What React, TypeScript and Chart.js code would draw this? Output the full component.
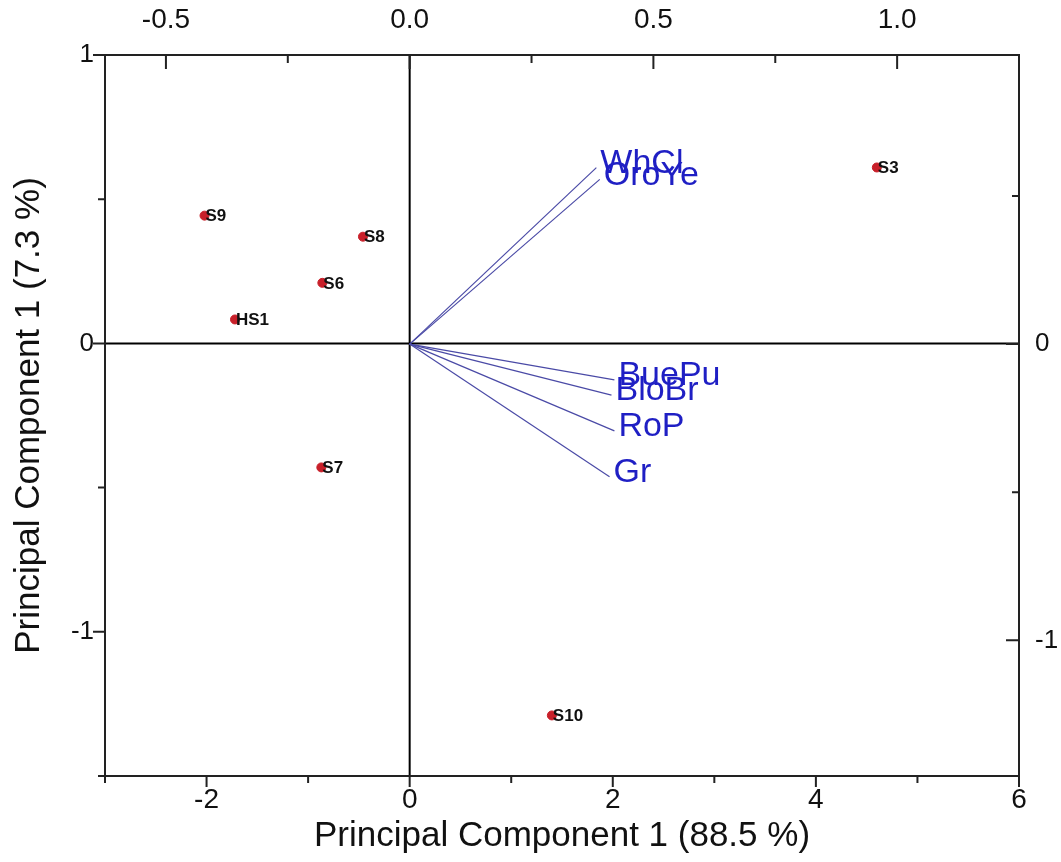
import React, { useEffect, useRef } from 'react';
import { Chart, registerables } from 'chart.js';

Chart.register(...registerables);

// Sample scores (bottom / left axes)
const sampleNames = ['S9', 'S8', 'S6', 'HS1', 'S7', 'S10', 'S3'];
const pc1Scores = [-2.02, -0.46, -0.86, -1.72, -0.87, 1.40, 4.60];
const pc2Scores = [0.443, 0.37, 0.21, 0.083, -0.43, -1.29, 0.61];

// Variable loadings (top / right axes)
const variableNames = ['WhCl', 'OroYe', 'BuePu', 'BloBr', 'RoP', 'Gr'];
const pc1Loadings = [0.383, 0.39, 0.42, 0.414, 0.42, 0.41];
const pc2Loadings = [0.596, 0.556, -0.121, -0.172, -0.293, -0.448];

// Tick labels
const bottomTickLabels = [-2, 0, 2, 4, 6];
const topTickLabels = [-0.5, 0.0, 0.5, 1.0];
const leftTickLabels = [1, 0, -1];
const rightTickLabels = [0, -1];

const xTitle = 'Principal Component 1 (88.5 %)';
const yTitle = 'Principal Component 1 (7.3 %)';

const NARROW = "'Liberation Sans Narrow', 'Arial Narrow', 'Liberation Sans', Arial, sans-serif";
const SANS = "'Liberation Sans', Arial, sans-serif";

const has = (arr: number[], v: number) => arr.some((a) => Math.abs(a - v) < 1e-6);
const isMult = (v: number, s: number) => Math.abs(v / s - Math.round(v / s)) < 1e-6;

const axesPlugin = {
  id: 'axesPlugin',
  beforeDatasetsDraw(chart: any) {
    const { ctx, chartArea: a, scales } = chart;
    ctx.save();
    ctx.strokeStyle = '#000';
    ctx.lineWidth = 2;
    const x0 = scales.x.getPixelForValue(0);
    const y0 = scales.y.getPixelForValue(0);
    ctx.beginPath();
    ctx.moveTo(x0, a.top);
    ctx.lineTo(x0, a.bottom);
    ctx.moveTo(a.left, y0);
    ctx.lineTo(a.right, y0);
    ctx.stroke();
    ctx.restore();
  },
  afterDatasetsDraw(chart: any) {
    const { ctx, chartArea: a, scales } = chart;
    ctx.save();
    ctx.strokeStyle = '#222';
    ctx.lineWidth = 2;
    ctx.strokeRect(a.left, a.top, a.right - a.left, a.bottom - a.top);
    ctx.beginPath();
    // bottom: outward
    scales.x.ticks.forEach((t: any) => {
      if (!isMult(t.value, 1)) return;
      const p = scales.x.getPixelForValue(t.value);
      const len = has(bottomTickLabels, t.value) ? 11 : 7;
      ctx.moveTo(p, a.bottom);
      ctx.lineTo(p, a.bottom + len);
    });
    // top: inward
    scales.x2.ticks.forEach((t: any) => {
      if (!isMult(t.value, 0.25)) return;
      const p = scales.x2.getPixelForValue(t.value);
      const len = has(topTickLabels, t.value) ? 14 : 8;
      ctx.moveTo(p, a.top);
      ctx.lineTo(p, a.top + len);
    });
    // left: outward
    scales.y.ticks.forEach((t: any) => {
      if (!isMult(t.value, 0.5)) return;
      const p = scales.y.getPixelForValue(t.value);
      const len = has(leftTickLabels, t.value) ? 12 : 7;
      ctx.moveTo(a.left, p);
      ctx.lineTo(a.left - len, p);
    });
    // right: inward
    scales.y2.ticks.forEach((t: any) => {
      if (!isMult(t.value, 0.5)) return;
      const p = scales.y2.getPixelForValue(t.value);
      const len = has(rightTickLabels, t.value) ? 13 : 7;
      ctx.moveTo(a.right, p);
      ctx.lineTo(a.right - len, p);
    });
    ctx.stroke();

    // sample labels
    const meta = chart.getDatasetMeta(0);
    ctx.fillStyle = '#111';
    ctx.font = `bold 17px ${SANS}`;
    ctx.textAlign = 'left';
    ctx.textBaseline = 'middle';
    meta.data.forEach((el: any, i: number) => {
      ctx.fillText(sampleNames[i], el.x + 1, el.y + 1);
    });

    // variable labels
    ctx.fillStyle = '#1f1fc4';
    ctx.font = `34px ${SANS}`;
    variableNames.forEach((name, i) => {
      const m = chart.getDatasetMeta(i + 1);
      const end = m.data[1];
      ctx.fillText(name, end.x + 4, end.y - 4);
    });
    ctx.restore();
  },
};

export default function App() {
  const ref = useRef<HTMLCanvasElement | null>(null);
  useEffect(() => {
    if (!ref.current) return;
    const datasets: any[] = [
      {
        label: 'Samples',
        data: pc1Scores.map((x, i) => ({ x, y: pc2Scores[i] })),
        xAxisID: 'x',
        yAxisID: 'y',
        pointRadius: 4.5,
        pointBackgroundColor: '#c8202a',
        pointBorderColor: '#c8202a',
        showLine: false,
      },
      ...variableNames.map((name, i) => ({
        label: name,
        data: [
          { x: 0, y: 0 },
          { x: pc1Loadings[i], y: pc2Loadings[i] },
        ],
        xAxisID: 'x2',
        yAxisID: 'y2',
        showLine: true,
        pointRadius: 0,
        borderColor: '#4a4aa6',
        borderWidth: 1.2,
        fill: false,
      })),
    ];
    const chart = new Chart(ref.current, {
      type: 'scatter',
      data: { datasets },
      plugins: [axesPlugin],
      options: {
        animation: false,
        responsive: false,
        layout: { padding: 0 },
        plugins: { legend: { display: false }, tooltip: { enabled: false } },
        scales: {
          x: {
            type: 'linear',
            position: 'bottom',
            min: -3,
            max: 6,
            grid: { display: false, drawTicks: false },
            border: { display: false },
            ticks: {
              stepSize: 1,
              autoSkip: false,
              includeBounds: false,
              maxRotation: 0,
              padding: 7,
              color: '#111',
              font: { family: NARROW, size: 28 },
              callback: (v: any) => (has(bottomTickLabels, Number(v)) ? String(v) : ''),
            },
            title: {
              display: true,
              text: xTitle,
              color: '#111',
              font: { family: NARROW, size: 35 },
              padding: { top: 0, bottom: 5 },
            },
            afterFit: (s: any) => { s.height = 86; },
          },
          x2: {
            type: 'linear',
            position: 'top',
            min: -0.625,
            max: 1.25,
            grid: { display: false, drawTicks: false },
            border: { display: false },
            ticks: {
              stepSize: 0.25,
              autoSkip: false,
              includeBounds: false,
              maxRotation: 0,
              padding: 18,
              color: '#111',
              font: { family: NARROW, size: 28 },
              callback: (v: any) => (has(topTickLabels, Number(v)) ? Number(v).toFixed(1) : ''),
            },
            afterFit: (s: any) => { s.height = 55; },
          },
          y: {
            type: 'linear',
            position: 'left',
            min: -1.5,
            max: 1,
            grid: { display: false, drawTicks: false },
            border: { display: false },
            ticks: {
              stepSize: 0.5,
              autoSkip: false,
              includeBounds: false,
              padding: 11,
              color: '#111',
              font: { family: SANS, size: 26 },
              callback: (v: any) => (has(leftTickLabels, Number(v)) ? String(v) : ''),
            },
            title: {
              display: true,
              text: yTitle,
              color: '#111',
              font: { family: NARROW, size: 35 },
              padding: { top: 8, bottom: 0 },
            },
            afterFit: (s: any) => { s.width = 105; },
          },
          y2: {
            type: 'linear',
            position: 'right',
            min: -1.458,
            max: 0.976,
            grid: { display: false, drawTicks: false },
            border: { display: false },
            ticks: {
              stepSize: 0.5,
              autoSkip: false,
              includeBounds: false,
              padding: 16,
              color: '#111',
              font: { family: SANS, size: 26 },
              callback: (v: any) => (has(rightTickLabels, Number(v)) ? String(v) : ''),
            },
            afterFit: (s: any) => { s.width = 42; },
          },
        },
      } as any,
    });
    return () => chart.destroy();
  }, []);

  return (
    <div style={{ position: 'fixed', left: 0, top: 0, width: 1061, height: 862, background: '#fff' }}>
      <canvas ref={ref} width={1061} height={862} style={{ width: 1061, height: 862 }} />
    </div>
  );
}
